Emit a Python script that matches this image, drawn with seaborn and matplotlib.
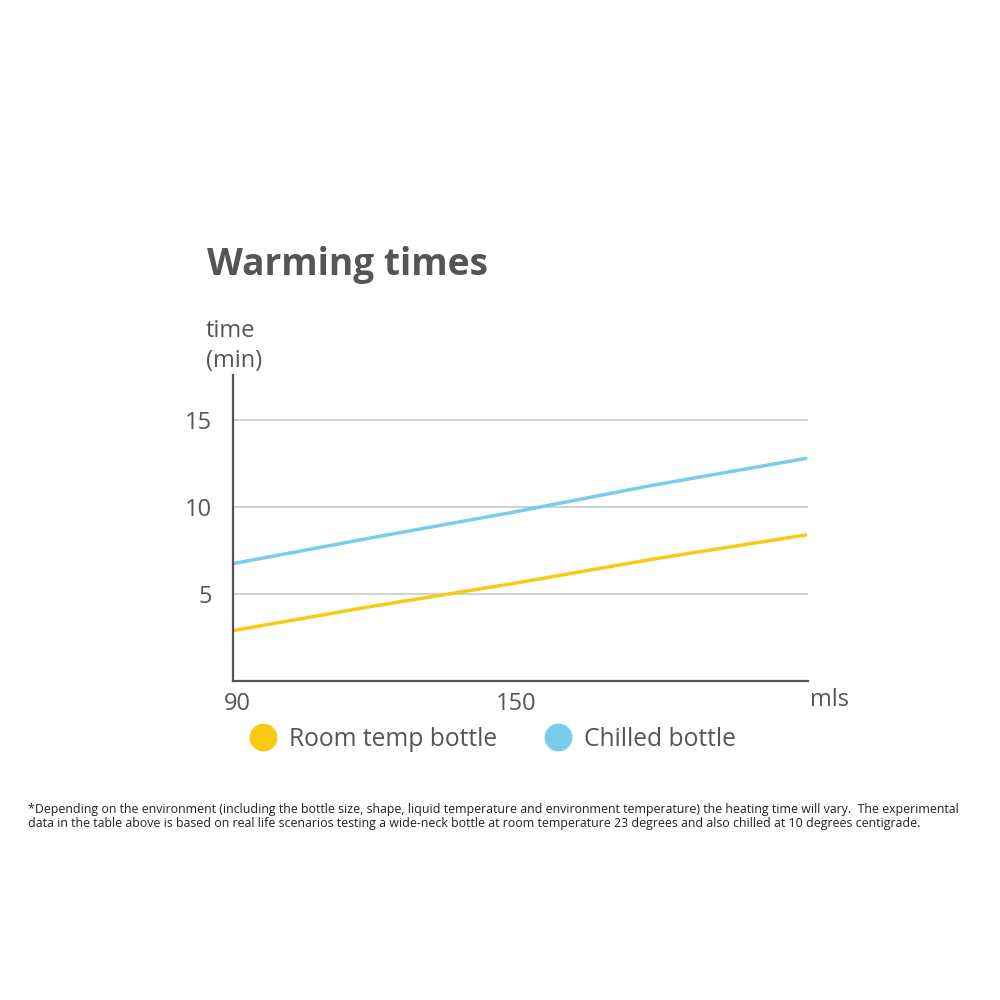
import matplotlib
matplotlib.use("Agg")
import matplotlib.pyplot as plt
import matplotlib.transforms as mtrans
import seaborn as sns
import pandas as pd
from matplotlib.lines import Line2D

# values
ml = [90, 120, 150, 180, 213]
room_temp = [2.9, 4.3, 5.6, 7.0, 8.4]
chilled = [6.75, 8.25, 9.7, 11.25, 12.8]
series_names = ["Room temp bottle", "Chilled bottle"]
y_ticks = [5, 10, 15]
x_ticks = [90, 150]

df = pd.DataFrame({
    "ml": ml + ml,
    "time": room_temp + chilled,
    "bottle": [series_names[0]] * len(ml) + [series_names[1]] * len(ml),
})

sns.set_theme(style="white")
plt.rcParams['font.family'] = ['Open Sans', 'DejaVu Sans']

text_col = "#555555"
colors = {series_names[0]: "#F8CB12", series_names[1]: "#7ACDEA"}

fig = plt.figure(figsize=(10, 10), dpi=100)
ax = fig.add_axes([0.233, 0.319, 0.575, 0.306])

sns.lineplot(data=df, x="ml", y="time", hue="bottle", palette=colors,
             linewidth=2.5, legend=False, ax=ax)

ax.set_xlim(90, 213.5)
ax.set_ylim(0, 17.6)
ax.set_yticks(y_ticks)
ax.set_xticks(x_ticks)
ax.set_xlabel("")
ax.set_ylabel("")
for y in y_ticks:
    ax.axhline(y, color="#c8c8c8", linewidth=1.2, zorder=0)

sns.despine(ax=ax)
for side in ["left", "bottom"]:
    ax.spines[side].set_color("#555555")
    ax.spines[side].set_linewidth(1.6)
ax.tick_params(axis="both", length=0, labelsize=17, labelcolor=text_col)
ax.tick_params(axis="y", pad=15)
ax.tick_params(axis="x", pad=8)
shift = mtrans.ScaledTranslation(4 / 100, 0, fig.dpi_scale_trans)
for lab in ax.get_xticklabels():
    lab.set_transform(lab.get_transform() + shift)

ax.text(1.003, -0.062, "mls", transform=ax.transAxes, fontsize=17,
        color=text_col, va="center", ha="left")

fig.text(0.207, 0.735, "Warming times", fontsize=26.7, fontweight="bold",
         color=text_col, va="center", ha="left")
fig.text(0.206, 0.654, "time\n(min)", fontsize=17, color=text_col,
         va="center", ha="left", linespacing=1.3)

handles = [Line2D([0], [0], marker="o", linestyle="", markersize=19,
                  markerfacecolor=colors[n], markeredgecolor=colors[n])
           for n in series_names]
fig.legend(handles, series_names, loc="center left", bbox_to_anchor=(0.226, 0.261),
           ncol=2, frameon=False, fontsize=17.7, labelcolor=text_col,
           handletextpad=0.45, columnspacing=1.9, handlelength=1.2)

note = ("*Depending on the environment (including the bottle size, shape, liquid temperature and "
        "environment temperature) the heating time will vary.  The experimental\n"
        "data in the table above is based on real life scenarios testing a wide-neck bottle at "
        "room temperature 23 degrees and also chilled at 10 degrees centigrade.")
fig.text(0.028, 0.197, note, fontsize=8.93, color="#222222", va="top", ha="left",
         linespacing=1.05)

fig.savefig("out.png", dpi=100, facecolor="white")
